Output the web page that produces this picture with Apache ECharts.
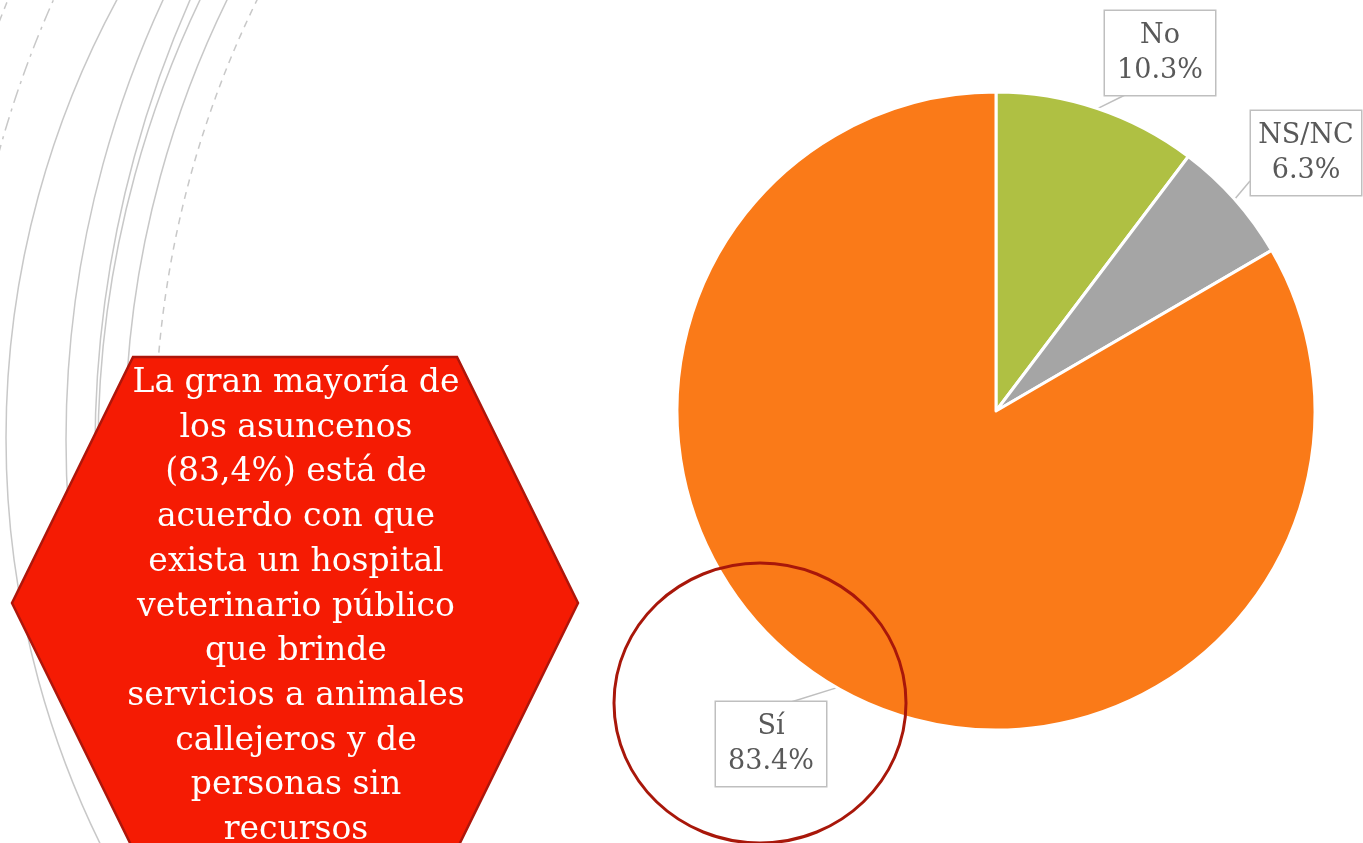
<!DOCTYPE html>
<html>
<head>
<meta charset="utf-8">
<script src="https://cdn.jsdelivr.net/npm/echarts@6/dist/echarts.min.js"></script>
<style>
  html, body { margin: 0; padding: 0; background: #fff; }
  #chart { width: 1363px; height: 843px; }
</style>
</head>
<body>
<div id="chart"></div>
<script>
// datos de la torta
const categorias = ['No', 'NS/NC', 'Sí'];
const porcentajes = [10.3, 6.3, 83.4];
const colores = ['#AFC043', '#A5A5A5', '#FA7A18'];

// texto del hexágono
const nota = [
    'La gran mayoría de',
    'los asuncenos',
    '(83,4%) está de',
    'acuerdo con que',
    'exista un hospital',
    'veterinario público',
    'que brinde',
    'servicios a animales',
    'callejeros y de',
    'personas sin',
    'recursos'
];

// posición de las etiquetas (centro de cada recuadro) y punto donde llega la línea
const etiquetaPos = [[1160, 53], [1306, 153], [771, 744]];
const etiquetaAncla = [[-35, 42], [-56, 28], [20, -42]];

// arcos decorativos del fondo: [cx, cy, r, tipo, desde, hasta] (grados)
const arcos = [
    [927, 438, 921, 'solid', 150, 210],
    [1112, 440, 1046, 'solid', 150, 210],
    [1208, 450, 1113, 'solid', 150, 210],
    [1142, 450, 1044, 'solid', 150, 210],
    [1125, 440, 1000, 'solid', 150, 210],
    [1155, 440, 1000, 'dashed', 150, 210],
    [1043, 440, 1083, 'dashdot', 192, 215],
    [1079, 440, 1158, 'dashed', 198, 215]
];

const chart = echarts.init(document.getElementById('chart'));

const dashes = { solid: null, dashed: [7, 6], dashdot: [14, 6, 3, 6] };
const rad = d => d * Math.PI / 180;

const graphics = arcos.map(([cx, cy, r, tipo, a0, a1]) => ({
    type: 'arc',
    silent: true,
    z: 1,
    shape: { cx, cy, r, startAngle: rad(a0), endAngle: rad(a1), clockwise: true },
    style: { fill: 'none', stroke: '#C8C8C8', lineWidth: 1.5, lineDash: dashes[tipo] }
}));

// hexágono rojo con el texto
graphics.push({
    type: 'polygon',
    z: 5,
    shape: { points: [[133, 357], [457, 357], [578, 603], [457, 849], [133, 849], [12, 603]] },
    style: { fill: '#F51B03', stroke: '#AE160B', lineWidth: 2.5 }
});
graphics.push({
    type: 'text',
    z: 6,
    x: 296,
    y: 607,
    style: {
        text: nota.join('\n'),
        fill: '#fff',
        font: '33px "DejaVu Serif"',
        lineHeight: 44.7,
        align: 'center',
        verticalAlign: 'middle'
    }
});
// círculo que resalta el Sí
graphics.push({
    type: 'ellipse',
    z: 20,
    shape: { cx: 760, cy: 703, rx: 146, ry: 140 },
    style: { fill: 'none', stroke: '#A8170A', lineWidth: 3 }
});

const option = {
    backgroundColor: '#fff',
    animation: false,
    graphic: graphics,
    series: [{
        type: 'pie',
        center: [996, 411],
        radius: 319,
        startAngle: 90,
        clockwise: true,
        z: 10,
        data: categorias.map((name, i) => ({
            name,
            value: porcentajes[i],
            itemStyle: { color: colores[i] }
        })),
        itemStyle: { borderColor: '#fff', borderWidth: 3 },
        label: {
            show: true,
            position: 'outside',
            overflow: 'none',
            width: 86,
            formatter: p => p.name + '\n' + p.value.toFixed(1) + '%',
            fontFamily: 'DejaVu Serif',
            fontSize: 27,
            lineHeight: 35,
            color: '#595959',
            align: 'center',
            backgroundColor: '#fff',
            borderColor: '#BFBFBF',
            borderWidth: 1.5,
            padding: [7, 12]
        },
        labelLine: {
            show: true,
            lineStyle: { color: '#BFBFBF', width: 1.5 }
        },
        labelLayout: params => {
            const i = params.dataIndex;
            const [x, y] = etiquetaPos[i];
            const start = params.labelLinePoints ? params.labelLinePoints[0] : null;
            const res = { x, y, align: 'center', verticalAlign: 'middle' };
            if (start) {
                res.labelLinePoints = [start, [x + etiquetaAncla[i][0], y + etiquetaAncla[i][1]]];
            }
            return res;
        }
    }]
};

chart.setOption(option);
</script>
</body>
</html>
